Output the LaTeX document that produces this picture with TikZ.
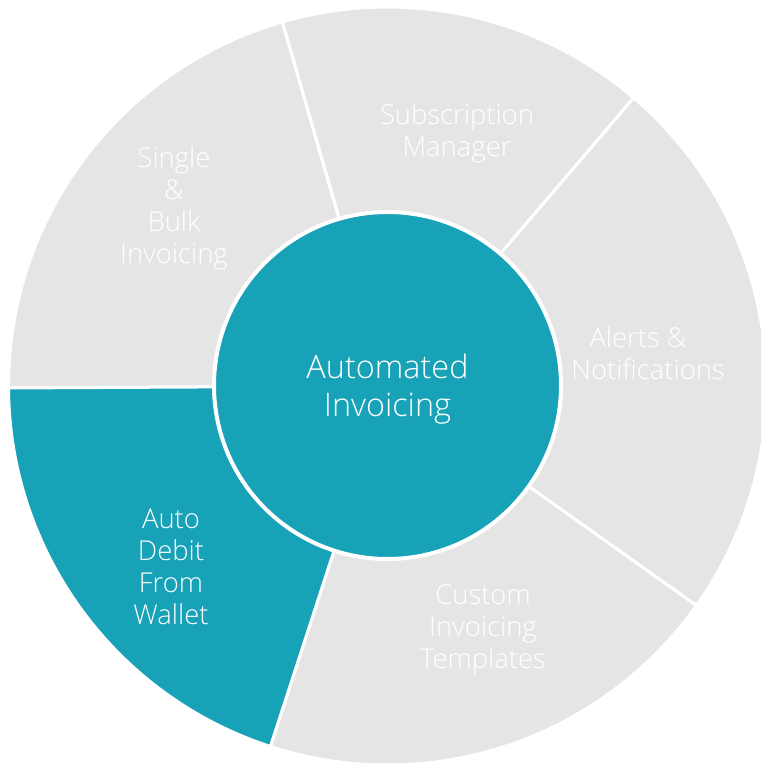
\documentclass[tikz,border=0pt]{standalone}
\usepackage{fontspec}
\setmainfont{Open Sans Light}
\definecolor{teal}{HTML}{17A2B8}
\definecolor{slice}{HTML}{E5E5E5}
\tikzset{
  wedge/.style={fill=slice,draw=white,line width=3pt},
  wedgeon/.style={wedge,fill=teal},
  lab/.style={text=white,align=center,font=\fontsize{27.4}{32}\selectfont,inner sep=0pt},
  hub/.style={circle,fill=teal,draw=white,line width=4pt,minimum size=347pt,inner sep=0pt},
  hublab/.style={lab,font=\fontsize{32.4}{38}\selectfont}
}
\begin{document}
\begin{tikzpicture}[x=1pt,y=-1pt]
\useasboundingbox (0,0) rectangle (761,763);
\begin{scope}
\clip (0,0) rectangle (761,763);
\coordinate (c) at (387.5,386);
\def\R{379}
\draw[wedge] (c) -- ++(180.3:\R pt) arc[start angle=180.3,end angle=106.1,radius=\R pt] -- cycle;
\draw[wedge] (c) -- ++(106.1:\R pt) arc[start angle=106.1,end angle=49.5,radius=\R pt] -- cycle;
\draw[wedge] (c) -- ++(49.5:\R pt) arc[start angle=49.5,end angle=-35.4,radius=\R pt] -- cycle;
\draw[wedge] (c) -- ++(-35.4:\R pt) arc[start angle=-35.4,end angle=-108,radius=\R pt] -- cycle;
\draw[wedgeon] (c) -- ++(-108:\R pt) arc[start angle=-108,end angle=-179.7,radius=\R pt] -- cycle;
\end{scope}
\node[hub] (hub) at (387.5,385.5) {};
\node[hublab] (hubtext) at (387.5,389.5) {Automated\\Invoicing};
\node[lab] (single) at (174,208) {Single\\\&\\Bulk\\Invoicing};
\node[lab] (sub) at (457,133) {Subscription\\Manager};
\node[lab] (alerts) at (648,353) {Alerts \&\hspace*{20pt}\\Notifications};
\node[lab] (custom) at (483,630) {Custom\\Invoicing\\Templates};
\node[lab] (auto) at (171,567) {Auto\\Debit\\From\\Wallet};
\end{tikzpicture}
\end{document}
